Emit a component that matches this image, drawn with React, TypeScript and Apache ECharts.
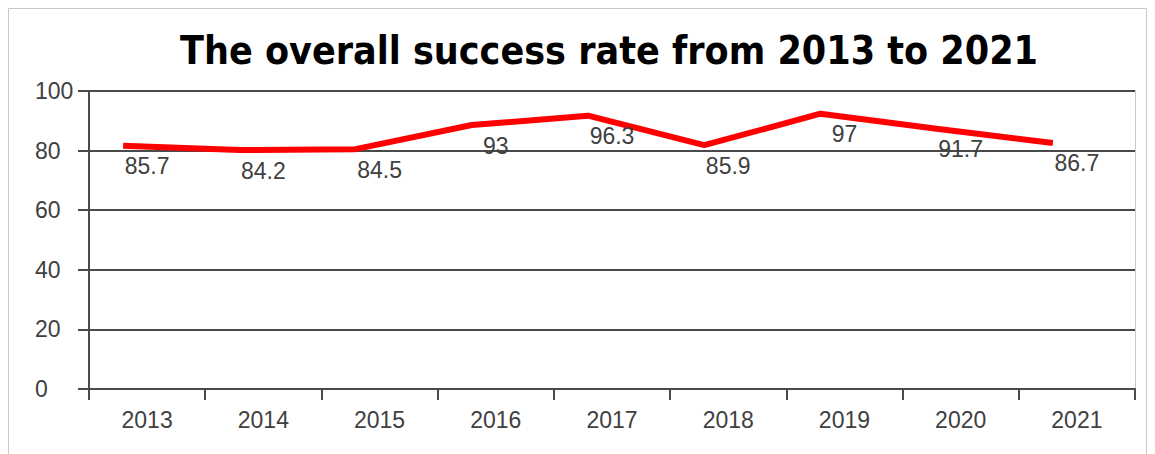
import React, { useEffect, useRef } from "react";
import * as echarts from "echarts";

const TITLE = "The overall success rate from 2013 to 2021";
const categories = ["2013", "2014", "2015", "2016", "2017", "2018", "2019", "2020", "2021"];
const rates = [85.7, 84.2, 84.5, 93, 96.3, 85.9, 97, 91.7, 86.7];
const yMin = 0;
const yMax = 100;
const yInterval = 20;
// the line in the reference is drawn against a hidden scale topping out at 105
const lineScaleMax = 105;

const FONT = "'Liberation Sans', Arial, sans-serif";
const TEXT = "#404040";
const GRIDC = "#4a4a4a";

export default function App() {
  const ref = useRef<HTMLDivElement>(null);
  useEffect(() => {
    if (!ref.current) return;
    const chart = echarts.init(ref.current, null, { renderer: "svg" });
    const shift = 24;
    const gTop = 83;
    const gBottom = 65;
    const gLeft = 81;
    const gRight = 12;
    chart.setOption({
      animation: false,
      backgroundColor: "#ffffff",
      title: {
        text: TITLE,
        left: 596,
        textAlign: "center",
        top: 18,
        textStyle: {
          fontFamily: "'Liberation Sans Narrow', 'DejaVu Sans Condensed', sans-serif",
          fontWeight: "bold",
          fontSize: 39,
          color: "#000000",
        },
      },
      graphic: [
        {
          type: "rect",
          shape: { x: 0.5, y: 0.5, width: 1138, height: 460 },
          style: { fill: "none", stroke: "#c8c8c8", lineWidth: 1 },
          silent: true,
        },
      ],
      grid: [
        { left: gLeft, right: gRight, top: gTop, bottom: gBottom },
        { left: gLeft - shift, right: gRight + shift, top: gTop, bottom: gBottom },
      ],
      xAxis: [
        {
          gridIndex: 0,
          type: "category",
          data: categories,
          boundaryGap: true,
          axisLine: { show: true, lineStyle: { color: GRIDC, width: 2 } },
          axisTick: { show: true, length: 11, lineStyle: { color: GRIDC, width: 2 } },
          axisLabel: { color: TEXT, fontSize: 23, fontFamily: FONT, margin: 19 },
          splitLine: { show: false },
        },
        {
          gridIndex: 1,
          type: "category",
          data: categories,
          boundaryGap: true,
          show: false,
        },
      ],
      yAxis: [
        {
          gridIndex: 0,
          type: "value",
          min: yMin,
          max: yMax,
          interval: yInterval,
          axisLine: { show: true, lineStyle: { color: GRIDC, width: 2 } },
          axisTick: { show: true, length: 11, lineStyle: { color: GRIDC, width: 2 } },
          axisLabel: { color: TEXT, fontSize: 23, fontFamily: FONT, margin: 54, align: "left" },
          splitLine: { show: true, lineStyle: { color: GRIDC, width: 2 } },
        },
        {
          gridIndex: 0,
          type: "value",
          position: "right",
          min: yMin,
          max: yMax,
          interval: yInterval,
          axisLine: { show: true, lineStyle: { color: "#c8c8c8", width: 1 } },
          axisTick: { show: false },
          axisLabel: { show: false },
          splitLine: { show: false },
        },
        {
          gridIndex: 1,
          type: "value",
          min: 0,
          max: lineScaleMax,
          show: false,
          splitLine: { show: false },
        },
      ],
      series: [
        {
          type: "line",
          xAxisIndex: 1,
          yAxisIndex: 2,
          data: rates,
          symbol: "circle",
          symbolSize: 0,
          showSymbol: true,
          lineStyle: { color: "#ff0000", width: 6 },
          itemStyle: { color: "#ff0000" },
          label: {
            show: true,
            position: "bottom",
            distance: 9,
            offset: [shift, 0],
            color: TEXT,
            fontSize: 23,
            fontFamily: FONT,
          },
          z: 5,
        },
      ],
    });
    return () => chart.dispose();
  }, []);
  return <div ref={ref} style={{ width: 1139, height: 446 }} />;
}
